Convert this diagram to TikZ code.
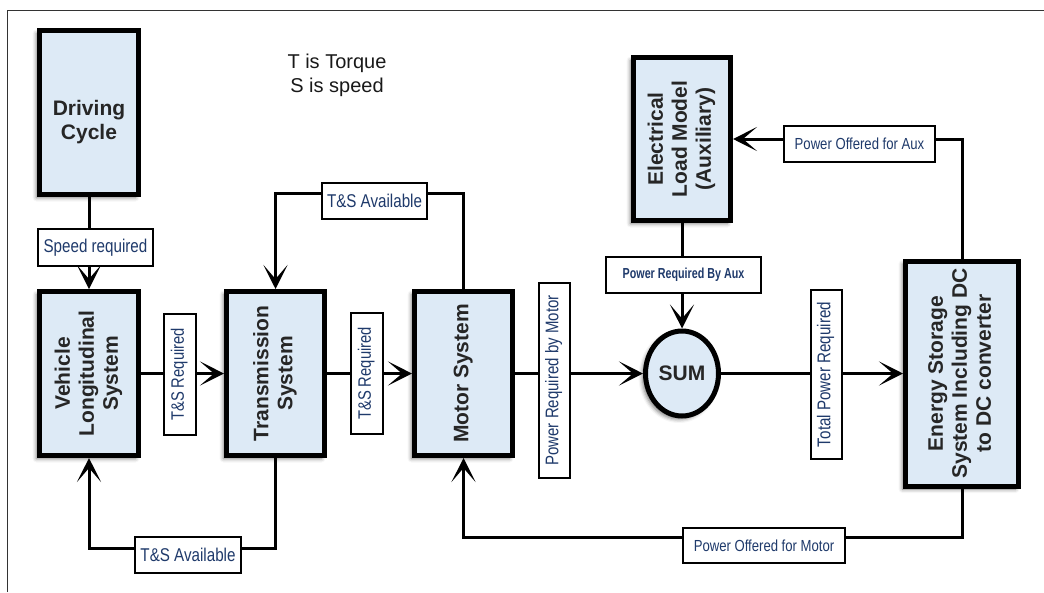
\documentclass[tikz,border=0pt]{standalone}
\usepackage{fontspec}
\usepackage{graphicx}
\setmainfont{Liberation Sans}
\newfontfamily\labfont[FakeStretch=0.82]{Liberation Sans}
\newfontfamily\auxfont[FakeStretch=0.74]{Liberation Sans}
\usetikzlibrary{arrows.meta,shapes.geometric,shadows.blur,calc}
\definecolor{boxfill}{HTML}{DDEAF6}
\definecolor{labtext}{HTML}{1F3A6B}
\definecolor{boxtext}{HTML}{262626}
\newcommand{\rottext}[1]{\rotatebox{90}{\begin{tabular}{@{}c@{}}#1\end{tabular}}}
\newcommand{\labsize}[1]{\labfont\fontsize{#1}{#1}\selectfont}
\begin{document}
\begin{tikzpicture}[x=1pt,y=-1pt,
  block/.style={draw=black, line width=5pt, fill=boxfill, text=boxtext,
    font=\fontsize{21}{24}\selectfont\bfseries, align=center, inner sep=0pt,
    blur shadow={shadow xshift=-3pt,shadow yshift=-3pt,shadow blur radius=4pt,shadow opacity=55}},
  lab/.style={draw=black, line width=2pt, fill=white, text=labtext,
    font=\labsize{17}, inner sep=0pt},
  conn/.style={line width=3pt, draw=black},
  arr/.style={conn, -{Stealth[length=24pt,width=24pt,inset=14pt]}},
]
\useasboundingbox (0,0) rectangle (1044,592);
\draw[line width=1pt, draw=black!80] (7.5,592) -- (7.5,10.5) -- (1044,10.5);

% blocks
\node[block, minimum width=99pt, minimum height=164pt] (drive) at (89,112.5) {\raisebox{-2.5pt}[0pt][0pt]{\begin{tabular}[t]{@{}c@{}}Driving\\Cycle\end{tabular}}};
\node[block, minimum width=99pt, minimum height=164pt] (veh) at (89,373.5) {\rottext{Vehicle\\Longitudinal\\System}};
\node[block, minimum width=98pt, minimum height=164pt] (trans) at (275.5,373.5) {\rottext{Transmission\\System}};
\node[block, minimum width=98pt, minimum height=164pt] (motor) at (463.5,373.5) {\rottext{Motor System}};
\node[block, minimum width=97pt, minimum height=163pt] (elec) at (682,139) {\rottext{Electrical\\Load Model\\(Auxiliary)}};
\node[block, minimum width=113pt, minimum height=225pt] (energy) at (962,373.5) {\rottext{Energy Storage\\System Including DC\\to DC converter}};
\node[block, ellipse, minimum width=73pt, minimum height=85pt] (sum) at (682,373.5) {SUM};

% legend
\node[align=center, text=black!90, font=\fontsize{20}{24}\selectfont] (legend) at (337,75) {T is Torque\\S is speed};

% connectors
\coordinate (topbend) at (0,193);
\coordinate (botbend) at (0,548);
\coordinate (pombend) at (0,537);
\draw[arr] (drive.south) -- (veh.north);
\draw[arr] (veh.east) -- (trans.west);
\draw[arr] (trans.east) -- (motor.west);
\draw[arr] (motor.east) -- (sum.west);
\draw[arr] (sum.east) -- (energy.west);
\draw[arr] (elec.south) -- (sum.north);
\draw[arr] (motor.north) -- (motor.north |- topbend) -| (trans.north);
\draw[arr] (trans.south) -- (trans.south |- botbend) -| (veh.south);
\draw[arr] (energy.south) -- (energy.south |- pombend) -| (motor.south);
\draw[arr] (energy.north) |- (elec.east);

% labels
\node[lab, minimum width=115pt, minimum height=37pt, font=\labsize{18.5}] (speed) at (95.5,247.5) {Speed required};
\node[lab, minimum width=32pt, minimum height=121pt, font=\labsize{18}] (tsr1) at (180,374.5) {\rottext{T\&S Required}};
\node[lab, minimum width=32pt, minimum height=121pt, font=\labsize{18}] (tsr2) at (367,373.5) {\rottext{T\&S Required}};
\node[lab, minimum width=105pt, minimum height=36pt, font=\labsize{18.5}] (tsatop) at (374.5,201) {T\&S Available};
\node[lab, minimum width=106pt, minimum height=36pt, font=\labsize{18.5}] (tsabot) at (188,555) {T\&S Available};
\node[lab, minimum width=31pt, minimum height=195pt, font=\labsize{18.3}] (prm) at (554.5,380.5) {\rottext{Power Required by Motor}};
\node[lab, minimum width=155pt, minimum height=36pt, font=\auxfont\bfseries\fontsize{14.5}{17}\selectfont] (pra) at (683.5,275) {Power Required By Aux};
\node[lab, minimum width=31pt, minimum height=169pt, font=\labsize{18.5}] (tpr) at (826.5,374.5) {\rottext{Total Power Required}};
\node[lab, minimum width=162pt, minimum height=35pt, font=\labsize{16}] (pom) at (764,545.5) {Power Offered for Motor};
\node[lab, minimum width=151pt, minimum height=36pt, font=\labsize{16}] (poa) at (859.5,144) {Power Offered for Aux};
\end{tikzpicture}
\end{document}
